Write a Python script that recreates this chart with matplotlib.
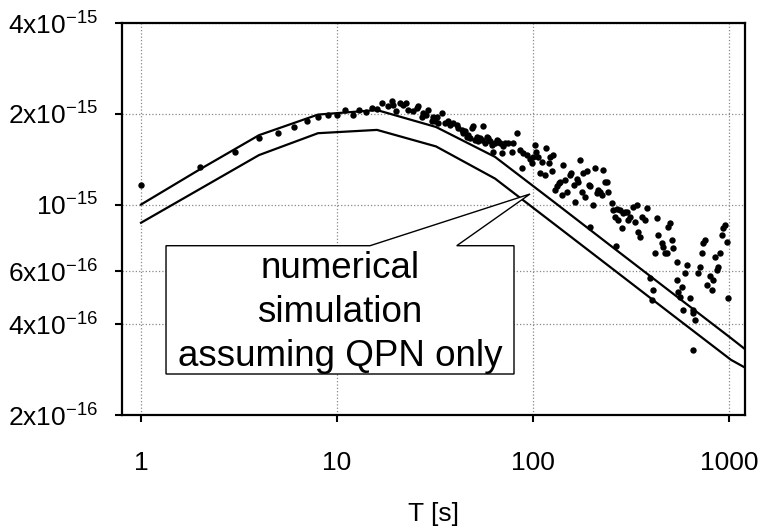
import numpy as np
import matplotlib
matplotlib.use("Agg")
import matplotlib.pyplot as plt
from matplotlib.patches import Polygon

plt.rcParams['font.family'] = ['Liberation Sans', 'DejaVu Sans']
plt.rcParams['mathtext.fontset'] = 'custom'
plt.rcParams['mathtext.rm'] = 'Liberation Sans'
plt.rcParams['mathtext.it'] = 'Liberation Sans'

# ---- data ----
# numerical simulation (QPN only), two curves, values in units of 1e-15
sim_T = [1, 2, 4, 8, 16, 32, 64, 128, 256, 512, 1024, 1200]
sim_upper = [1.00, 1.31, 1.70, 1.99, 2.06, 1.81, 1.44, 1.02, 0.72, 0.509, 0.36, 0.332]
sim_lower = [0.87, 1.127, 1.46, 1.726, 1.77, 1.56, 1.22, 0.863, 0.61, 0.431, 0.305, 0.288]

# measured Allan deviation points: averaging time T [s]
meas_T = [1, 2, 3, 4, 5, 6, 7, 8, 9, 10, 11, 12, 13, 14, 15, 16,
          16.9, 18.2, 19.0, 19.4, 20.1, 21.0, 21.7, 22.6, 23.0, 24.5, 25.5, 26.0, 27.0,
          27.6, 28.6, 29.2, 30.4, 31.0, 31.7, 32.2, 32.9, 34.2, 35.6, 37.0, 37.7, 39.2,
          40.8, 41.6, 43.3, 44.1, 45.0, 45.9, 46.8, 47.7, 48.7, 49.6, 50.6, 51.6, 52.6,
          53.7, 54.7, 55.8, 56.9, 58.0, 59.2, 60.4, 61.5, 62.8, 64.0, 65.3, 66.6, 67.9,
          69.2, 70.6, 72.0, 74.8, 77.8, 79.4, 82.6, 85.9, 87.5, 89.3, 92.9, 96.5, 98.4,
          100.5, 102, 104, 106, 109, 111, 115, 117, 120, 122, 125, 127, 130, 132, 135,
          137, 140, 143, 146, 149, 155, 157, 161, 164, 167, 170, 174, 177, 181, 184, 188,
          192, 195, 195, 203, 207, 211, 215, 220, 224, 228, 233, 238, 242, 252, 257, 262,
          266, 267, 272, 278, 283, 289, 295, 301, 306, 312, 325, 331, 338, 345, 352, 359,
          373, 380, 395, 403, 411, 419, 427, 436, 453, 462, 472, 481, 490, 500, 510, 520,
          541, 541, 551, 562, 573, 585, 596, 608, 632, 653, 658, 670, 658, 698, 711, 725,
          740, 754, 769, 800, 815, 832, 849, 865, 883, 900, 917, 935, 955, 973, 993]
# Allan deviation in units of 1e-15
meas_sig = [1.16, 1.33, 1.49, 1.66, 1.73, 1.81, 1.90, 1.95, 1.98, 1.99, 2.06, 1.99, 2.06,
            2.03, 2.10, 2.07,
            2.17, 2.12, 2.20, 2.14, 2.04, 2.18, 2.14, 2.17, 2.06, 2.04, 2.09, 2.12, 1.96,
            2.01, 1.98, 2.06, 1.89, 1.96, 1.89, 1.96, 1.86, 2.01, 1.86, 1.89, 1.84, 1.87,
            1.84, 1.79, 1.77, 1.73, 1.75, 1.68, 1.70, 1.66, 1.79, 1.82, 1.64, 1.68, 1.62,
            1.66, 1.64, 1.82, 1.60, 1.68, 1.66, 1.62, 1.58, 1.50, 1.60, 1.64, 1.62, 1.60,
            1.48, 1.56, 1.60, 1.60, 1.50, 1.60, 1.73, 1.52, 1.32, 1.48, 1.46, 1.42, 1.37,
            1.44, 1.58, 1.50, 1.44, 1.27, 1.39, 1.25, 1.54, 1.37, 1.44, 1.29, 1.46, 1.12,
            1.15, 1.18,
            1.19, 1.08, 1.35, 1.21, 1.10, 1.25, 1.27, 1.16, 1.02, 1.22, 1.19, 1.41, 1.10,
            1.27, 1.06, 1.29,
            1.16, 1.15, 0.84, 1.00, 1.32, 1.09, 1.12, 1.10, 1.08, 1.30, 1.19, 1.19, 1.10,
            1.01, 0.96, 0.91,
            0.73, 0.97, 0.89, 0.96, 0.834, 0.935, 0.948, 0.946, 0.89, 0.912, 0.985, 0.877,
            1.00, 0.813, 0.783, 0.912,
            0.889, 0.972, 0.569, 0.482, 0.520, 0.689, 0.90, 0.792, 0.744, 0.725, 0.689,
            0.689, 0.845, 0.867, 0.763, 0.716,
            0.646, 0.562, 0.514, 0.494, 0.534, 0.447, 0.591, 0.630, 0.488, 0.447, 0.435,
            0.414, 0.329, 0.591, 0.622, 0.689,
            0.744, 0.763, 0.541, 0.577, 0.520, 0.562, 0.671, 0.607, 0.622, 0.689, 0.792,
            0.834, 0.855, 0.753, 0.488]

xticks = [1, 10, 100, 1000]
xticklabels = ['1', '10', '100', '1000']
yticks = [2e-16, 4e-16, 6e-16, 1e-15, 2e-15, 4e-15]
yticklabels = [r'$\mathregular{2x10^{-16}}$', r'$\mathregular{4x10^{-16}}$',
               r'$\mathregular{6x10^{-16}}$', r'$\mathregular{10^{-15}}$',
               r'$\mathregular{2x10^{-15}}$', r'$\mathregular{4x10^{-15}}$']
xlabel = 'T [s]'
callout_text = 'numerical\nsimulation\nassuming QPN only'

# ---- figure ----
fig = plt.figure(figsize=(7.63, 5.27), dpi=100)
ax = fig.add_axes([0.1595, 0.2125, 0.8169, 0.7433])
ax.set_xscale('log')
ax.set_yscale('log')

scale = 1e-15
ax.plot(sim_T, np.array(sim_upper) * scale, color='black', lw=1.6, zorder=3)
ax.plot(sim_T, np.array(sim_lower) * scale, color='black', lw=1.6, zorder=3)
ax.plot(meas_T, np.array(meas_sig) * scale, 'o', color='black', ms=4.6,
        markeredgewidth=0, zorder=4)

ax.set_xlim(0.797, 1207)
ax.set_ylim(2e-16, 4e-15)
ax.set_xticks(xticks)
ax.set_xticklabels(xticklabels)
ax.set_yticks(yticks)
ax.set_yticklabels(yticklabels)
ax.minorticks_off()
ax.tick_params(axis='both', which='major', direction='out', length=5, width=1.5,
               labelsize=19)
ax.tick_params(axis='x', pad=21)
ax.tick_params(axis='y', pad=12)
ax.grid(True, which='major', linestyle=':', color='#888888', lw=0.9)
for s in ax.spines.values():
    s.set_linewidth(1.6)
    s.set_color('black')
ax.set_xlabel(xlabel, fontsize=19, labelpad=19)

# callout box with pointer (axes fraction)
bx0, bx1, by0, by1 = 0.0711, 0.6294, 0.1047, 0.4322
p1, p2 = 0.3984, 0.5375
tip = (0.6551, 0.5642)
poly = Polygon([(bx0, by0), (bx1, by0), (bx1, by1), (p2, by1), tip, (p1, by1), (bx0, by1)],
               closed=True, transform=ax.transAxes, facecolor='white', edgecolor='black',
               lw=1.0, zorder=6)
ax.add_patch(poly)
ax.text(0.350, 0.2617, callout_text, transform=ax.transAxes, ha='center', va='center',
        fontsize=26.5, linespacing=1.35, zorder=7)

fig.savefig('out.png', dpi=100)
